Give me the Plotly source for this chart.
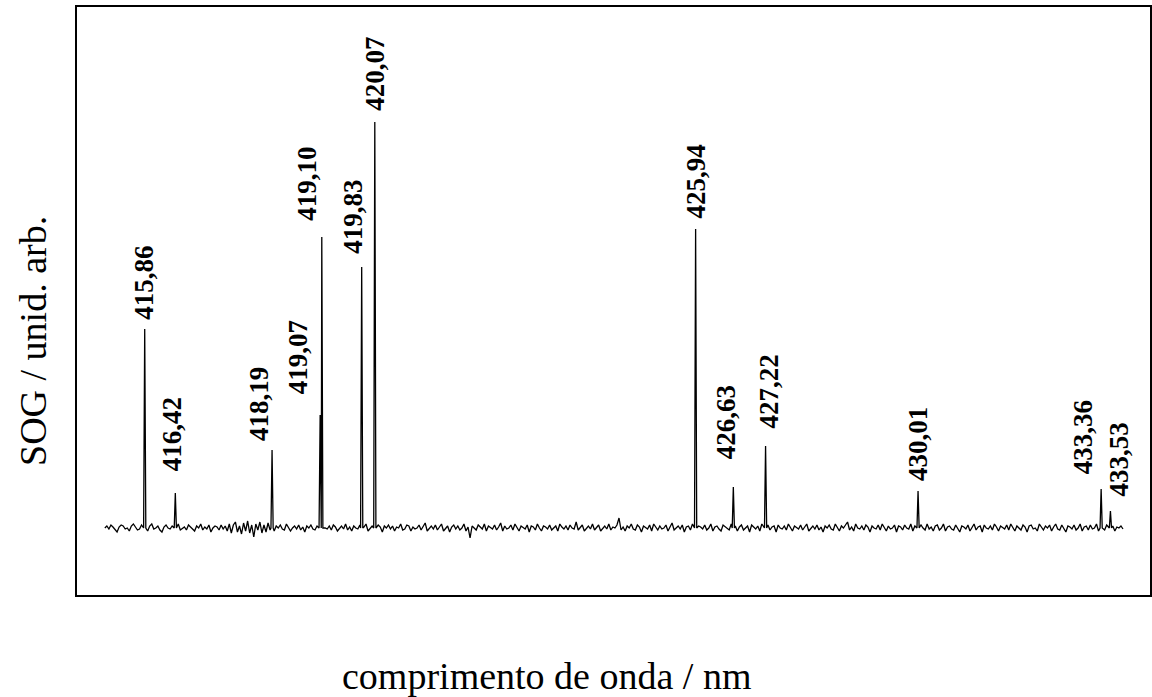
import numpy as np
import plotly.graph_objects as go

# ---- data ----
peak_labels = ["415,86", "416,42", "418,19", "419,07", "419,10", "419,83", "420,07",
               "425,94", "426,63", "427,22", "430,01", "433,36", "433,53"]
peak_wavelengths = [415.86, 416.42, 418.19, 419.07, 419.10, 419.83, 420.07,
                    425.94, 426.63, 427.22, 430.01, 433.36, 433.53]
peak_heights = [199, 35, 78, 113, 291, 261, 406, 299, 41, 82, 37, 39, 17]

noise_start, noise_end = 415.13, 433.76
baseline_noise = [
    0, 2, -1, 3, 1, -2, -4, 1, 3, 2, -1, 0, -3, 2, 4, 1, -2, -1, 3, -2,
    1, -3, 2, 4, -1, 0, 2, -2, -4, 1, 3, 0, -1, 2, -3, 1, 4, -2, 0, 1,
    -2, 3, 1, -1, -3, 2, 0, 4, -2, 1, -1, 3, -4, 0, 2, 1, -2, 3, -1, 2,
    -3, 4, -5, 3, 6, -4, 2, -6, 5, -3, 7, -5, 3, -9, 4, -2, 6, -5, 3, -4,
    5, -2, 1, -3, 2, 0, 3, -1, -2, 4, 1, -3, 0, 2, -1, 3, -2, 1, -4, 2,
    0, 3, -1, -2, 2, 1, -3, 4, 0, -1, 2, -2, 3, 1, -3, 0, 2, -1, 4, -2,
    1, -3, 2, 0, -1, 3, -2, 1, 4, -3, 0, 2, -1, -2, 3, 1, -4, 2, 0, 3,
    -1, 2, -3, 1, 0, 4, -2, -1, 3, 2, -3, 1, -1, 0, 3, -2, 2, 5, -3, 0,
    2, -1, 3, -2, 1, 4, -3, 0, 2, -4, 1, 3, -1, 2, -2, 0, 4, -3, 1, -10,
    2, 0, -2, 3, 1, -1, 4, -3, 2, 0, -1, 3, -2, 1, 5, -3, 2, -1, 0, 3,
    -2, 4, 1, -3, 2, 0, -1, 3, -4, 2, 1, -2, 4, 0, -3, 2, 1, -1, 3, -2,
    0, 2, -3, 4, 1, -1, 2, -2, 3, 0, -1, 6, -2, 1, 3, -3, 0, 2, -1, 4,
    -2, 1, 3, -3, 0, 2, -1, 4, -2, 1, 0, 3, 10, -2, 1, -3, 2, 0, 4, -1,
    -2, 3, 1, -4, 2, 0, -1, 3, -3, 4, 1, -2, 2, -1, 0, 3, -3, 1, 5, -2,
    0, 2, -1, 3, -4, 1, 2, -2, 4, 0, -3, 2, 1, -1, 3, -2, 0, 4, -3, 1,
    2, -1, -3, 3, 1, 0, -2, 4, -1, 2, -3, 1, 3, -2, 0, 2, -4, 3, 1, -1,
    2, -3, 4, 0, -1, 3, -2, 1, 2, -4, 3, 0, -1, 2, -2, 4, 1, -3, 2, 0,
    -1, 3, -2, 1, 4, -3, 0, 2, -1, 3, -2, 1, -4, 2, 0, 3, -1, -2, 4, 1,
    -3, 2, 0, 3, 6, -2, 1, -3, 4, 0, -1, 2, -2, 3, 1, -4, 2, 0, -1, 3,
    -2, 4, 1, -3, 2, -1, 0, 3, -4, 2, 1, -2, 3, 0, -1, 4, -3, 2, 1, -2,
    3, 0, -2, 4, -1, 1, -3, 2, 3, -2, 0, 4, -3, 1, 2, -1, -2, 3, 0, -4,
    2, 1, -1, 3, -3, 0, 4, -2, 1, 2, -4, 3, 0, -1, 2, -2, 4, 1, -3, 2,
    0, -1, 3, -2, 4, 1, -3, 2, 0, -2, 3, 1, -4, 2, 3, -1, 0, -3, 4, 1,
    -2, 2, 0, 3, -3, 1, 4, -1, -2, 3, 0, -4, 2, 1, -1, 3, -2, 0, 4, -3,
    1, 2, -2, 3, -1, 0, 4, -3, 2, 1, -2, 3, 0, -1, 2, -3, 1, 0, 2, -1,
]

# ---- label placement (pixel offsets, styling only) ----
label_xshift = [-1, -3, -13, -22, -15, -9, 0, 0, -7, 3, 0, -18, 9]
label_gap = [10, 23, 10, 22, 17, 14, 12, 11, 29, 18, 11, 16, 16]

# ---- build spectrum trace from data ----
grid = np.linspace(noise_start, noise_end, len(baseline_noise))
hw = 0.02
pts = []
for x, y in zip(grid, baseline_noise):
    if min(abs(x - w) for w in peak_wavelengths) > 0.03:
        pts.append((x, y))
for w, h in zip(peak_wavelengths, peak_heights):
    pts.append((w - hw, 0))
    pts.append((w, h))
    pts.append((w + hw, 0))
pts.sort(key=lambda p: p[0])
xs = [p[0] for p in pts]
ys = [p[1] for p in pts]

fig = go.Figure()
fig.add_trace(go.Scatter(x=xs, y=ys, mode="lines",
                         line=dict(color="black", width=1.3), showlegend=False))

for lab, w, h, xs_, g in zip(peak_labels, peak_wavelengths, peak_heights, label_xshift, label_gap):
    fig.add_annotation(x=w, y=h, text=lab, textangle=-90, showarrow=False,
                       xanchor="center", yanchor="bottom", xshift=xs_, yshift=g - 2,
                       font=dict(family="Liberation Serif", size=27, color="black", weight="bold"),
                       borderpad=0)

fig.add_annotation(xref="paper", yref="paper", x=0.4372, y=-0.1378,
                   text="comprimento de onda / nm", showarrow=False,
                   xanchor="center", yanchor="middle",
                   font=dict(family="Liberation Serif", size=38, color="black"))
fig.add_annotation(xref="paper", yref="paper", x=-0.041, y=0.432,
                   text="SOG / unid. arb.", showarrow=False, textangle=-90,
                   xanchor="center", yanchor="middle",
                   font=dict(family="Liberation Serif", size=38, color="black"))

axis_common = dict(showticklabels=False, ticks="", showgrid=False, zeroline=False,
                   showline=True, mirror=True, linecolor="black", linewidth=2)
fig.update_xaxes(range=[414.621, 434.254], **axis_common)
fig.update_yaxes(range=[-67, 521], **axis_common)

fig.update_layout(width=1152, height=697, margin=dict(l=77, r=0, t=7, b=102),
                  paper_bgcolor="white", plot_bgcolor="white")

fig.write_html("out.html")
